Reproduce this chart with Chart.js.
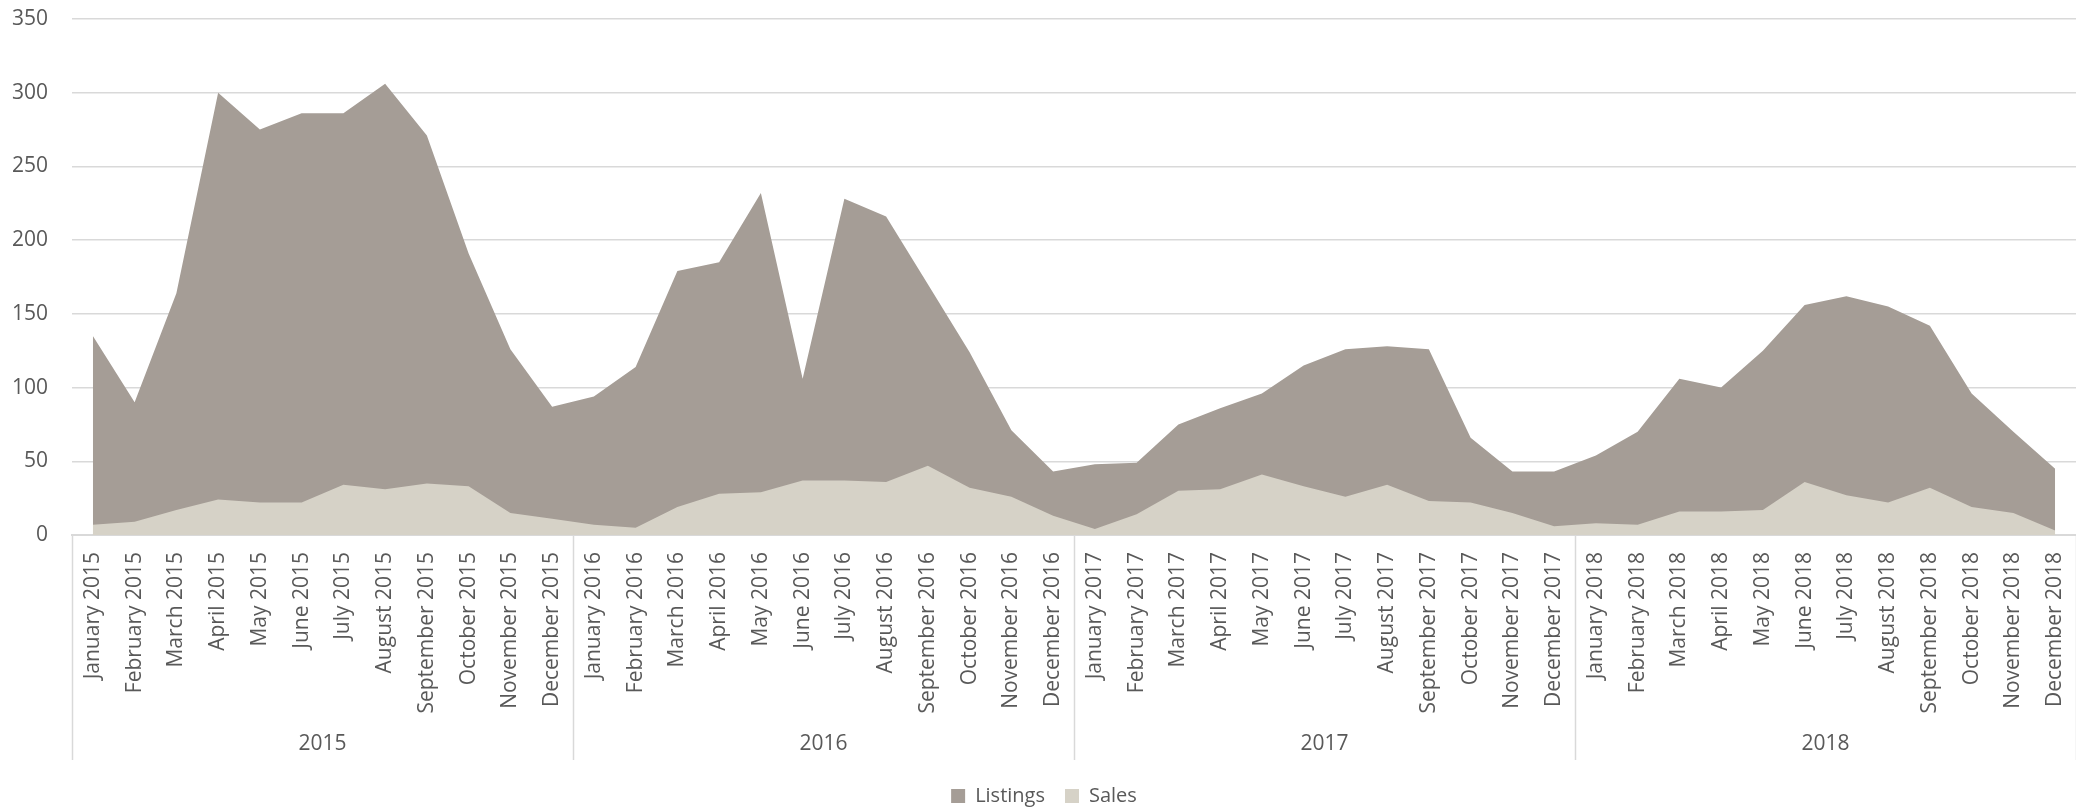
<!DOCTYPE html>
<html>
<head>
<meta charset="utf-8">
<script src="https://cdn.jsdelivr.net/npm/chart.js@4/dist/chart.umd.min.js"></script>
<style>
  html, body { margin: 0; padding: 0; background: #fff; }
  #wrap { width: 2076px; height: 809px; position: relative; }
</style>
</head>
<body>
<div id="wrap"><canvas id="chart"></canvas></div>
<script>
// categories
const years = ["2015", "2016", "2017", "2018"];
const monthNames = ["January", "February", "March", "April", "May", "June",
  "July", "August", "September", "October", "November", "December"];
const labels = years.flatMap((y) => monthNames.map((m) => m + " " + y));

// series
const listings = [
  135, 90, 164, 300, 275, 286, 286, 306, 271, 191, 126, 87,
  94, 114, 179, 185, 232, 106, 228, 216, 170, 124, 71, 43,
  48, 49, 75, 86, 96, 115, 126, 128, 126, 66, 43, 43,
  54, 70, 106, 100, 125, 156, 162, 155, 142, 96, 70, 45
];
const sales = [
  7, 9, 17, 24, 22, 22, 34, 31, 35, 33, 15, 11,
  7, 5, 19, 28, 29, 37, 37, 36, 47, 32, 26, 13,
  4, 14, 30, 31, 41, 33, 26, 34, 23, 22, 15, 6,
  8, 7, 16, 16, 17, 36, 27, 22, 32, 19, 15, 3
];

// y ticks
const yMin = 0;
const yMax = 350;
const yStep = 50;

const textColor = "#595959";
const gridColor = "#d9d9d9";
const fontFamily = "'Open Sans', sans-serif";

// vertical separators between year groups, down through the label area
const groupLines = {
  id: "groupLines",
  afterDraw(chart) {
    const ys = chart.scales.year;
    const ctx = chart.ctx;
    ctx.save();
    ctx.strokeStyle = gridColor;
    ctx.lineWidth = 1.5;
    for (let i = 0; i <= years.length; i++) {
      const x = Math.round(ys.getPixelForValue(i * 12 - 0.5)) + 0.5;
      ctx.beginPath();
      ctx.moveTo(x, chart.chartArea.bottom);
      ctx.lineTo(x, ys.bottom - 6);
      ctx.stroke();
    }
    ctx.restore();
  },
};

new Chart(document.getElementById("chart"), {
  type: "line",
  data: {
    labels: labels,
    datasets: [
      {
        label: "Listings",
        data: listings,
        backgroundColor: "#a59d96",
        borderWidth: 0,
        pointRadius: 0,
        fill: "origin",
        order: 1,
      },
      {
        label: "Sales",
        data: sales,
        backgroundColor: "#d6d2c7",
        borderWidth: 0,
        pointRadius: 0,
        fill: "origin",
        order: 0,
      },
    ],
  },
  options: {
    responsive: true,
    maintainAspectRatio: false,
    animation: false,
    layout: { padding: { left: 12, top: 19, right: 0, bottom: -7 } },
    plugins: {
      tooltip: { enabled: false },
      legend: {
        position: "bottom",
        labels: {
          font: { family: fontFamily, size: 20 },
          color: textColor,
          boxWidth: 14,
          boxHeight: 14,
          padding: 20,
          sort: (a, b) => a.datasetIndex - b.datasetIndex,
        },
      },
    },
    scales: {
      x: {
        type: "category",
        weight: 0,
        offset: true,
        grid: { display: false, drawTicks: false },
        border: { display: true, color: gridColor, width: 2 },
        afterFit: (scale) => {
          scale.height = 178;
          scale.paddingLeft = 0;
          scale.paddingRight = 0;
        },
        ticks: {
          autoSkip: false,
          minRotation: 90,
          maxRotation: 90,
          padding: 17,
          color: textColor,
          font: { family: fontFamily, size: 21 },
        },
      },
      year: {
        type: "linear",
        position: "bottom",
        weight: 1,
        min: -0.5,
        max: years.length * 12 - 0.5,
        grid: { display: false, drawTicks: false },
        border: { display: false },
        afterBuildTicks: (scale) => {
          scale.ticks = years.map((y, i) => ({ value: i * 12 + 5.5 }));
        },
        afterFit: (scale) => {
          scale.height = 53;
          scale.paddingLeft = 0;
          scale.paddingRight = 0;
        },
        ticks: {
          autoSkip: false,
          maxRotation: 0,
          padding: 18,
          color: textColor,
          font: { family: fontFamily, size: 21 },
          callback: (v, i) => years[i],
        },
      },
      y: {
        min: yMin,
        max: yMax,
        grid: { color: gridColor, lineWidth: 1.5, drawTicks: false },
        border: { display: false },
        afterFit: (scale) => {
          scale.width = 60;
          scale.paddingTop = 0;
          scale.paddingBottom = 0;
        },
        ticks: {
          stepSize: yStep,
          padding: 24,
          color: textColor,
          font: { family: fontFamily, size: 21 },
        },
      },
    },
  },
  plugins: [groupLines],
});
</script>
</body>
</html>
